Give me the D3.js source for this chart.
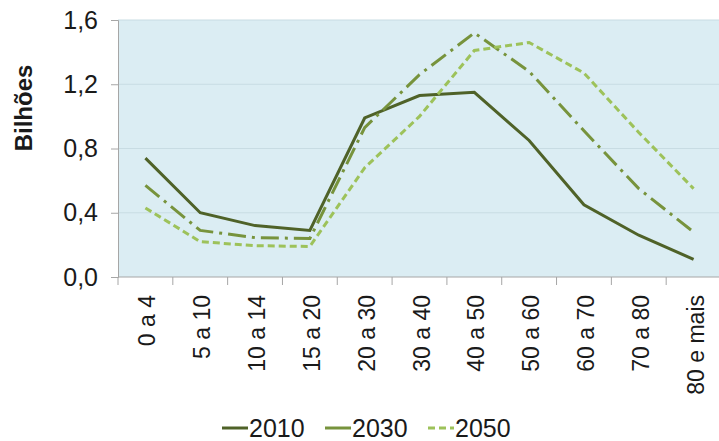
<!DOCTYPE html>
<html>
<head>
<meta charset="utf-8">
<script src="https://cdn.jsdelivr.net/npm/d3@7"></script>
<style>
  body { margin: 0; background: #fff; }
  svg { display: block; font-family: "Liberation Sans", Arial, sans-serif; }
</style>
</head>
<body>
<div id="chart"></div>
<script>
const categories = ["0 a 4", "5 a 10", "10 a 14", "15 a 20", "20 a 30", "30 a 40", "40 a 50", "50 a 60", "60 a 70", "70 a 80", "80 e mais"];
const values2010 = [0.74, 0.40, 0.32, 0.29, 0.99, 1.13, 1.15, 0.85, 0.45, 0.26, 0.11];
const values2030 = [0.57, 0.29, 0.245, 0.24, 0.93, 1.26, 1.52, 1.28, 0.91, 0.55, 0.28];
const values2050 = [0.43, 0.22, 0.195, 0.19, 0.68, 1.00, 1.41, 1.46, 1.27, 0.90, 0.55];
const yTicks = [0, 0.4, 0.8, 1.2, 1.6];

const series = [
    { name: "2010", values: values2010, color: "#4f6228", dash: null },
    { name: "2030", values: values2030, color: "#77933c", dash: "18,6,3,6" },
    { name: "2050", values: values2050, color: "#9dc25a", dash: "7,4" }
];

const width = 719;
const height = 441;
const margin = { top: 20, right: 0, bottom: 164, left: 118 };

const svg = d3.select("#chart").append("svg")
    .attr("width", width)
    .attr("height", height);

const x = d3.scaleBand()
    .domain(categories)
    .range([margin.left, width - margin.right + 2])
    .padding(0);

const y = d3.scaleLinear()
    .domain([0, 1.6])
    .range([height - margin.bottom, margin.top]);

// plot background
svg.append("rect")
    .attr("x", margin.left)
    .attr("y", margin.top)
    .attr("width", width - margin.left)
    .attr("height", y(0) - margin.top)
    .attr("fill", "#dbedf3");

// gridlines
svg.append("g")
    .selectAll("line")
    .data(yTicks.slice(1))
    .enter()
    .append("line")
    .attr("x1", margin.left)
    .attr("x2", width)
    .attr("y1", d => y(d))
    .attr("y2", d => y(d))
    .attr("stroke", "#c8dce3")
    .attr("stroke-width", 1);

// y axis
const yAxis = svg.append("g")
    .attr("transform", `translate(${margin.left},0)`)
    .call(d3.axisLeft(y).tickValues(yTicks).tickSize(7).tickPadding(13)
        .tickFormat(d => d3.format(".1f")(d).replace(".", ",")));
yAxis.select(".domain").attr("stroke", "#a6a6a6");
yAxis.selectAll(".tick line").attr("stroke", "#a6a6a6");
yAxis.selectAll("text")
    .attr("font-size", 25)
    .attr("fill", "#1a1a1a");

// x axis with ticks at band edges
const xAxis = svg.append("g")
    .attr("transform", `translate(0,${y(0)})`);
xAxis.append("line")
    .attr("x1", margin.left)
    .attr("x2", width)
    .attr("stroke", "#a6a6a6");
xAxis.selectAll(".edge")
    .data(categories)
    .enter()
    .append("line")
    .attr("class", "edge")
    .attr("x1", d => x(d))
    .attr("x2", d => x(d))
    .attr("y1", 0)
    .attr("y2", 8)
    .attr("stroke", "#a6a6a6");
xAxis.selectAll("text")
    .data(categories)
    .enter()
    .append("text")
    .attr("transform", d => `translate(${x(d) + x.bandwidth() / 2 + 10},18) rotate(-90)`)
    .attr("text-anchor", "end")
    .attr("font-size", 23)
    .attr("fill", "#1a1a1a")
    .text(d => d);

// y label
svg.append("text")
    .attr("transform", `translate(32,108) rotate(-90)`)
    .attr("text-anchor", "middle")
    .attr("font-size", 24)
    .attr("font-weight", "bold")
    .attr("fill", "#1a1a1a")
    .text("Bilhões");

// lines
const line = d3.line()
    .x((d, i) => x(categories[i]) + x.bandwidth() / 2)
    .y(d => y(d));

svg.append("g")
    .selectAll("path")
    .data(series)
    .enter()
    .append("path")
    .attr("d", d => line(d.values))
    .attr("fill", "none")
    .attr("stroke", d => d.color)
    .attr("stroke-width", 3)
    .attr("stroke-dasharray", d => d.dash);

// legend
const legendX = [222, 325, 428];
const legend = svg.append("g")
    .selectAll("g")
    .data(series)
    .enter()
    .append("g")
    .attr("transform", (d, i) => `translate(${legendX[i]},428)`);

legend.append("line")
    .attr("x1", 0)
    .attr("x2", 26)
    .attr("stroke", d => d.color)
    .attr("stroke-width", 3)
    .attr("stroke-dasharray", d => d.name === "2050" ? "7,4" : null);

legend.append("text")
    .attr("x", 27)
    .attr("y", 9)
    .attr("font-size", 25)
    .attr("fill", "#1a1a1a")
    .text(d => d.name);
</script>
</body>
</html>
